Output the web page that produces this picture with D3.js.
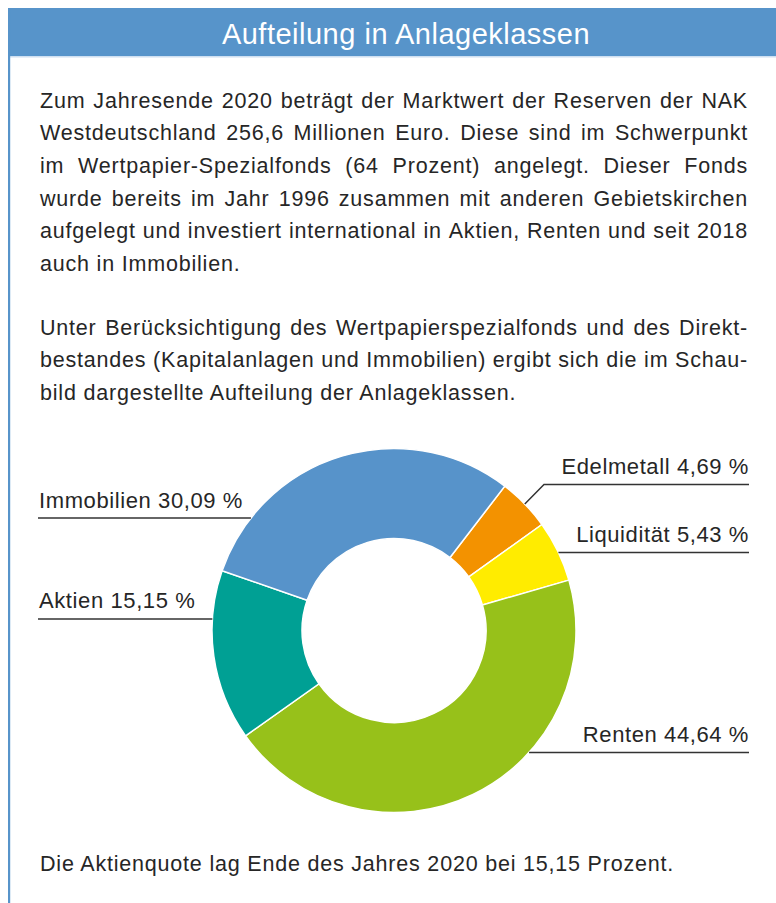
<!DOCTYPE html>
<html>
<head>
<meta charset="utf-8">
<script src="https://cdn.jsdelivr.net/npm/d3@7"></script>
<style>
  body { margin: 0; background: #fff; }
  svg { display: block; font-family: "Liberation Sans", Arial, sans-serif; }
</style>
</head>
<body>
<script>
// chart data
const categories = ["Edelmetall", "Liquidität", "Renten", "Aktien", "Immobilien"];
const shares = [4.69, 5.43, 44.64, 15.15, 30.09];
const sliceColors = ["#f39200", "#ffec00", "#97c11a", "#00a094", "#5793ca"];

const title = "Aufteilung in Anlageklassen";
const para1 = [
    "Zum Jahresende 2020 beträgt der Marktwert der Reserven der NAK",
    "Westdeutschland 256,6 Millionen Euro. Diese sind im Schwerpunkt",
    "im Wertpapier-Spezialfonds (64 Prozent) angelegt. Dieser Fonds",
    "wurde bereits im Jahr 1996 zusammen mit anderen Gebietskirchen",
    "aufgelegt und investiert international in Aktien, Renten und seit 2018",
    "auch in Immobilien."
];
const para2 = [
    "Unter Berücksichtigung des Wertpapierspezialfonds und des Direkt-",
    "bestandes (Kapitalanlagen und Immobilien) ergibt sich die im Schau-",
    "bild dargestellte Aufteilung der Anlageklassen."
];
const footer = "Die Aktienquote lag Ende des Jahres 2020 bei 15,15 Prozent.";

// layout
const width = 776, height = 903;
const blue = "#5794ca";
const textLeft = 40, textRight = 748;
const cx = 394, cy = 630.5, rOuter = 182, rInner = 92;
const startDeg = 37.5;

// label placement per slice: side, text baseline, underline y
const labelLayout = {
    "Edelmetall": { side: "right", y: 474, ly: 484.5, elbow: 544 },
    "Liquidität": { side: "right", y: 542, ly: 552.5 },
    "Renten":     { side: "right", y: 742, ly: 752.5 },
    "Aktien":     { side: "left",  y: 608, ly: 619 },
    "Immobilien": { side: "left",  y: 508, ly: 518 }
};

const svg = d3.select("body").append("svg")
    .attr("width", width)
    .attr("height", height);

// frame: header bar + left rule
svg.append("rect")
    .attr("x", 8).attr("y", 8)
    .attr("width", width - 8).attr("height", 48)
    .attr("fill", blue);
svg.append("rect")
    .attr("x", 8).attr("y", 56)
    .attr("width", width - 8).attr("height", 1.5)
    .attr("fill", "#cfe0f1");
svg.append("rect")
    .attr("x", 8).attr("y", 8)
    .attr("width", 2.2).attr("height", height - 8)
    .attr("fill", blue);

svg.append("text")
    .attr("x", 406).attr("y", 44)
    .attr("text-anchor", "middle")
    .attr("fill", "#fff")
    .style("font-size", "29px")
    .style("letter-spacing", "0.5px")
    .text(title);

// body text, justified like the print layout
const bodyStyle = sel => sel
    .attr("fill", "#262626")
    .style("font-size", "21.5px")
    .style("letter-spacing", "0.8px");

function drawParagraph(lines, firstBaseline, lineGap) {
    lines.forEach((line, i) => {
        const y = firstBaseline + i * lineGap;
        const last = i === lines.length - 1;
        if (last) {
            svg.append("text").attr("x", textLeft).attr("y", y).call(bodyStyle).text(line);
            return;
        }
        const words = line.split(" ");
        const g = svg.append("g");
        const nodes = words.map(w => g.append("text").attr("y", y).call(bodyStyle).text(w));
        const widths = nodes.map(n => n.node().getComputedTextLength());
        const total = d3.sum(widths);
        const gap = (textRight - textLeft - total) / (words.length - 1);
        let x = textLeft;
        nodes.forEach((n, j) => {
            n.attr("x", x);
            x += widths[j] + gap;
        });
    });
}

drawParagraph(para1, 107.5, 32.7);
drawParagraph(para2, 334.5, 32.5);

svg.append("text")
    .attr("x", textLeft).attr("y", 871)
    .call(bodyStyle)
    .text(footer);

// donut
const pie = d3.pie()
    .sort(null)
    .value(d => d)
    .startAngle(startDeg * Math.PI / 180)
    .endAngle(startDeg * Math.PI / 180 + 2 * Math.PI);

const arc = d3.arc().innerRadius(rInner).outerRadius(rOuter);
const arcs = pie(shares);

const donut = svg.append("g").attr("transform", `translate(${cx},${cy})`);
donut.selectAll("path")
    .data(arcs)
    .enter().append("path")
    .attr("d", arc)
    .attr("fill", (d, i) => sliceColors[i])
    .attr("stroke", "#fff")
    .attr("stroke-width", 1.5);

// labels with leader lines
const fmt = v => d3.format(".2f")(v).replace(".", ",") + " %";

arcs.forEach((d, i) => {
    const name = categories[i];
    const L = labelLayout[name];
    const right = L.side === "right";
    const textX = right ? 749 : 39;

    svg.append("text")
        .attr("x", textX).attr("y", L.y)
        .attr("text-anchor", right ? "end" : "start")
        .attr("fill", "#262626")
        .style("font-size", "22px")
        .style("letter-spacing", "0.6px")
        .text(`${name} ${fmt(shares[i])}`);

    let points;
    const lineOuter = right ? 749 : 38;
    if (L.elbow) {
        const mid = (d.startAngle + d.endAngle) / 2;
        const px = cx + rOuter * Math.sin(mid);
        const py = cy - rOuter * Math.cos(mid);
        points = [[lineOuter, L.ly], [L.elbow, L.ly], [px, py]];
    } else {
        const dy = L.ly - cy;
        const dx = Math.sqrt(rOuter * rOuter - dy * dy);
        const edgeX = right ? cx + dx : cx - dx;
        points = [[lineOuter, L.ly], [edgeX, L.ly]];
    }
    svg.append("path")
        .attr("d", d3.line()(points))
        .attr("fill", "none")
        .attr("stroke", "#333")
        .attr("stroke-width", 1.5);
});
</script>
</body>
</html>
